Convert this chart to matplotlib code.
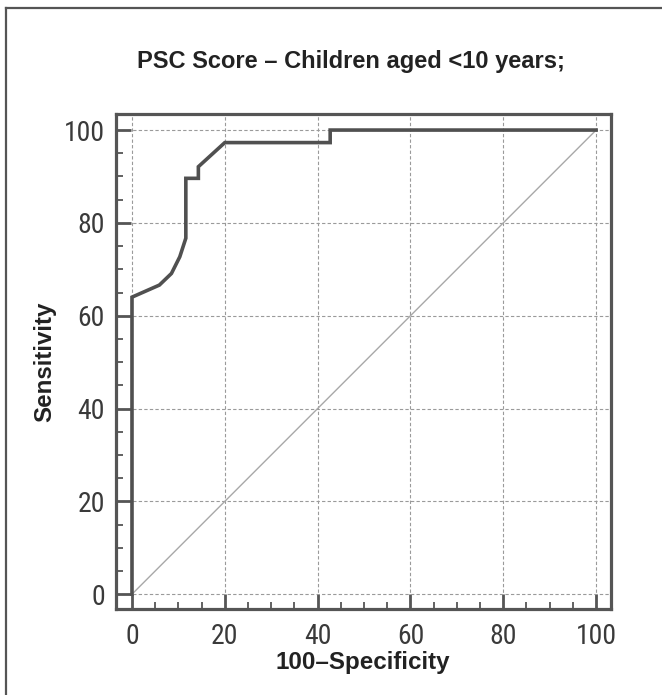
import matplotlib
matplotlib.use("Agg")
import matplotlib.pyplot as plt
from matplotlib import font_manager
from matplotlib.lines import Line2D
from matplotlib.ticker import MultipleLocator

# ROC curve (100-specificity, sensitivity)
fpr = [0, 0, 5.9, 8.5, 10.3, 11.6, 11.6, 14.3, 14.3, 20.0, 42.7, 42.7, 100]
sens = [0, 64, 66.6, 69.1, 72.7, 76.7, 89.6, 89.6, 92.1, 97.3, 97.3, 100, 100]
ref_line = [0, 100]
ticks = [0, 20, 40, 60, 80, 100]

title = "PSC Score \u2013 Children aged <10 years;"
xlabel = "100\u2013Specificity"
ylabel = "Sensitivity"

plt.rcParams["font.family"] = ["Liberation Sans", "DejaVu Sans"]
names = {f.name for f in font_manager.fontManager.ttflist}
if "Roboto Condensed" in names:
    tick_font, tick_fs = "Roboto Condensed", 20
else:
    tick_font, tick_fs = "Liberation Sans", 17.3

dark = "#555555"

fig = plt.figure(figsize=(6.62, 6.95), dpi=100)
ax = fig.add_axes([0.1752, 0.1237, 0.7477, 0.7122])

ax.plot(ref_line, ref_line, color="#a8a8a8", lw=1.0, zorder=2)
ax.plot(fpr, sens, color="#505050", lw=2.6, zorder=3, solid_joinstyle="miter")

ax.set_xlim(-3.45, 103.2)
ax.set_ylim(-3.2, 103.45)
ax.set_xticks(ticks)
ax.set_yticks(ticks)
ax.xaxis.set_minor_locator(MultipleLocator(5))
ax.yaxis.set_minor_locator(MultipleLocator(5))
ax.tick_params(which="major", direction="in", length=11, width=2.0, color=dark,
               labelsize=tick_fs, labelcolor="#3a3a3a", top=False, right=False)
ax.tick_params(axis="x", which="major", pad=10)
ax.tick_params(axis="y", which="major", pad=8)
ax.tick_params(which="minor", direction="in", length=5, width=1.3, color=dark,
               top=False, right=False)
for lab in ax.get_xticklabels() + ax.get_yticklabels():
    lab.set_fontfamily([tick_font, "DejaVu Sans"])

ax.grid(True, which="major", color="#9a9a9a", lw=0.8, ls=(0, (3, 2)), zorder=1)
for s in ax.spines.values():
    s.set_linewidth(2.3)
    s.set_color(dark)

ax.set_xlabel(xlabel, fontsize=17.4, fontweight="bold", color="#222222", va="center")
ax.set_ylabel(ylabel, fontsize=17.4, fontweight="bold", color="#222222", va="center")
ax.xaxis.set_label_coords(0.499, -0.109)
ax.yaxis.set_label_coords(-0.143, 0.499)
fig.text(0.530, 0.911, title, fontsize=17, fontweight="bold",
         color="#222222", ha="center", va="center")

# outer frame: left and top only
fig.add_artist(Line2D([0.0098, 0.0098], [0.0, 0.9878], transform=fig.transFigure,
                      color="#555555", lw=1.6))
fig.add_artist(Line2D([0.0098, 1.0], [0.9878, 0.9878], transform=fig.transFigure,
                      color="#555555", lw=1.6))

fig.savefig("out.png", dpi=100)
